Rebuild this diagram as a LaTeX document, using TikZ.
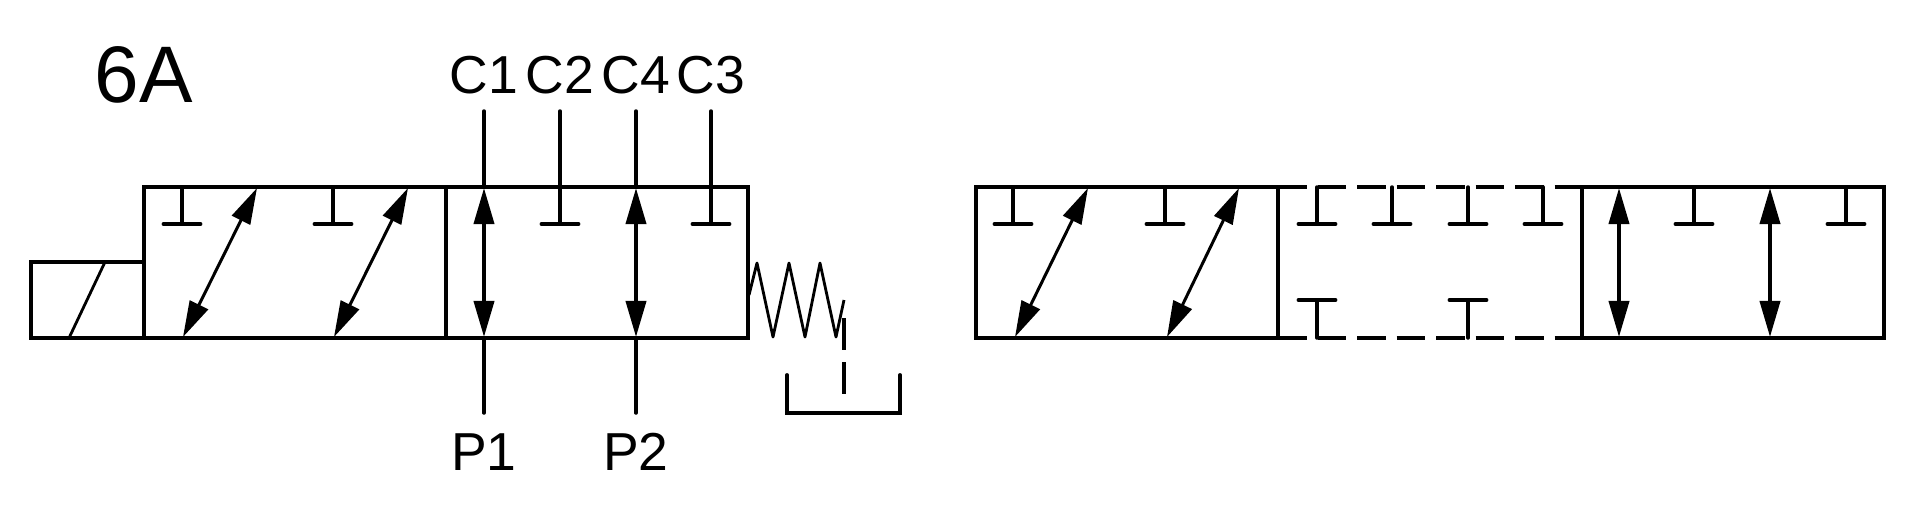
\documentclass[tikz,border=0pt]{standalone}
\usepackage{fontspec}
\setmainfont{Liberation Sans}
\usetikzlibrary{arrows.meta}
\tikzset{
    valve/.style={line width=1.1pt, line cap=round, line join=miter},
    thinline/.style={line width=1pt, line cap=round},
    springline/.style={line width=0.8pt, line join=round},
    flow/.style={line width=0.85pt, {Triangle[length=0.36cm,width=0.2cm]}-{Triangle[length=0.36cm,width=0.2cm]}},
    portlabel/.style={anchor=base, inner sep=0pt, font=\fontsize{15.2pt}{18pt}\selectfont},
}
\begin{document}
\begin{tikzpicture}[x=0.01cm,y=-0.01cm]
\useasboundingbox (0,0) rectangle (1920,511);

\node[anchor=base west, inner sep=0pt, font=\fontsize{22.8pt}{27pt}\selectfont] (title) at (94,102) {6A};

% Draw the solenoid
\draw[valve] (144,262) -- (31,262) -- (31,338) -- (144,338);
\draw[springline] (69,338) -- (105,262);

% Draw the valve on the left
\draw[valve] (144,187) rectangle (748,338);
\draw[valve] (446,187) -- (446,338);

% Draw the valve on the right
\draw[valve] (976,187) rectangle (1884,338);
\draw[valve] (1278,187) -- (1278,338);
\draw[valve] (1582,187) -- (1582,338);
\fill[white] (1280,180) rectangle (1580,195);
\fill[white] (1280,330) rectangle (1580,345);
\draw[valve, line cap=butt, dash pattern=on 0.285cm off 0.11cm] (1278,187) -- (1582,187);
\draw[valve, line cap=butt, dash pattern=on 0.285cm off 0.11cm] (1278,338) -- (1582,338);

% Closed ports hanging from the top edge
\foreach \i in {182,333,560,711,1013,1165,1317,1392,1468,1543,1694,1846}
{
    \draw[thinline] (\i,187) -- (\i,224);
    \draw[valve] (\i-18.5,224) -- (\i+18.5,224);
}
% Closed ports standing on the bottom edge
\foreach \i in {1317,1468}
{
    \draw[thinline] (\i,338) -- (\i,300);
    \draw[valve] (\i-18.5,300) -- (\i+18.5,300);
}

% Crossed flow paths
\foreach \a/\b in {183/257,334/408,1015/1088,1167/1239}
{
    \draw[flow] (\a,337) -- (\b,188);
}
% Straight flow paths
\foreach \i in {484,636,1619,1770}
{
    \draw[flow, line width=1.1pt] (\i,337) -- (\i,188);
}

% Ports and their labels
\foreach \name/\i in {C1/484,C2/560,C4/636,C3/711}
{
    \node[portlabel] (\name) at (\i,93) {\name};
    \coordinate (\name end) at (\i,111);
    \coordinate (\name in) at (\i,187);
    \draw[thinline] (\name end) -- (\name in);
}
\foreach \name/\i in {P1/484,P2/636}
{
    \node[portlabel] (\name) at (\i,470) {\name};
    \coordinate (\name end) at (\i,413);
    \coordinate (\name in) at (\i,338);
    \draw[thinline] (\name end) -- (\name in);
}

% Draw the spring
\draw[springline] (749,295) -- (757,263) -- (773,337) -- (789,263) -- (805,337) -- (820,263) -- (836,337) -- (844,300);

% Draw the drain and the tank
\draw[thinline, line cap=butt, dash pattern=on 0.32cm off 0.12cm] (844,318) -- (844,396);
\draw[valve, line join=miter] (787,375) -- (787,413) -- (900,413) -- (900,375);
\end{tikzpicture}
\end{document}
